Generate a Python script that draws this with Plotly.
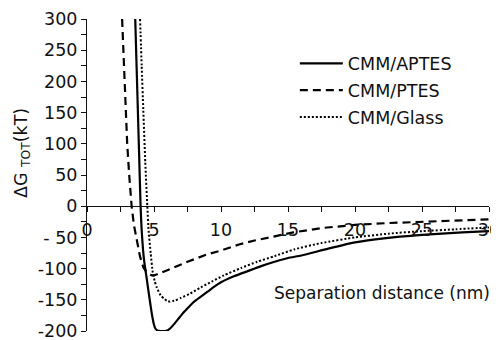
import plotly.graph_objects as go

# ---- data ----
aptes_x = [3.6, 3.7, 3.8, 3.9, 4.0, 4.1, 4.25, 4.45, 4.6, 4.75, 4.9, 5.0, 5.1, 5.25, 5.5, 5.8, 6.0,
           6.2, 6.5, 6.8, 7.1, 7.4, 7.7, 8.0, 8.5, 9.0, 9.5, 10.0, 11.0, 12.0, 13.0, 14.0, 15.0,
           16.0, 18.0, 20.0, 22.0, 25.0, 28.0, 30.0]
aptes_y = [300, 225, 150, 75, 0, -45, -85, -115, -138, -160, -180, -190, -196, -199, -200, -200, -199,
           -196, -189, -181, -173, -166, -159, -153, -145, -137, -129, -122, -112, -104, -96, -89, -83,
           -79, -68, -58, -52, -46, -42, -40]

ptes_x = [2.62, 2.75, 2.9, 3.0, 3.15, 3.33, 3.5, 3.7, 3.95, 4.2, 4.5, 4.85, 5.0, 5.5, 6.0, 6.5, 7.5,
          9.0, 10.0, 11.4, 12.5, 14.0, 15.4, 17.5, 20.0, 22.5, 25.0, 27.5, 30.0]
ptes_y = [300, 230, 150, 100, 50, 0, -30, -55, -80, -98, -107, -111, -111, -107, -103, -98, -89,
          -77, -71, -61, -55, -48, -42, -35, -30, -27, -25, -23, -21]

glass_x = [3.96, 4.08, 4.2, 4.35, 4.5, 4.6, 4.75, 4.9, 5.05, 5.2, 5.5, 5.8, 6.0, 6.2, 6.4, 6.6, 7.0,
           7.7, 8.5, 9.3, 10.2, 11.5, 12.7, 14.0, 15.5, 17.5, 20.0, 22.5, 25.0, 27.5, 30.0]
glass_y = [300, 225, 155, 70, 0, -40, -75, -105, -120, -130, -143, -149, -152, -153, -152, -151, -147,
           -140, -130, -121, -111, -99, -89, -80, -69, -59, -50, -44, -40, -37, -34]

names = ["CMM/APTES", "CMM/PTES", "CMM/Glass"]

x_ticks = [0, 5, 10, 15, 20, 25, 30]
y_ticks = [300, 250, 200, 150, 100, 50, 0, -50, -100, -150, -200]
y_ticktext = ["300", "250", "200", "150", "100", "50", "0", "- 50", "-100", "-150", "-200"]

FONT = "DejaVu Sans, Arial, sans-serif"
INK = "#111111"
FS = 17.5

fig = go.Figure()
fig.add_trace(go.Scatter(x=aptes_x, y=aptes_y, mode="lines", name=names[0], legendgroup="a",
                         line=dict(color="black", width=2.2, shape="spline", smoothing=0.6)))
fig.add_trace(go.Scatter(x=ptes_x, y=ptes_y, mode="lines", name=names[1], legendgroup="b",
                         line=dict(color="black", width=2.2, dash="8px,5px")))
fig.add_trace(go.Scatter(x=glass_x, y=glass_y, mode="lines", name=names[2], legendgroup="c",
                         line=dict(color="black", width=2, dash="2px,2px", shape="spline", smoothing=0.5)))

# the page body adds an 8px offset, so the figure is sized to fit the 499x340 window
fig.update_layout(
    width=491, height=332,
    margin=dict(l=79, r=10, t=11, b=9, autoexpand=False),
    paper_bgcolor="white", plot_bgcolor="white",
    font=dict(family=FONT, size=FS, color=INK),
    showlegend=True,
    legend=dict(x=0.517, y=0.915, xanchor="left", yanchor="top",
                bgcolor="rgba(0,0,0,0)", font=dict(size=FS, color=INK),
                tracegroupgap=1, itemwidth=43),
    xaxis=dict(range=[0, 30], anchor="free", position=0.4, automargin=False,
               showline=True, linecolor=INK, linewidth=1,
               ticks="outside", ticklen=5, tickcolor=INK, tickwidth=1,
               tickvals=x_ticks, ticktext=[str(v) for v in x_ticks],
               minor=dict(dtick=2.5, ticks="outside", ticklen=5, tickcolor=INK),
               ticklabelstandoff=3, ticklabeloverflow="allow",
               showgrid=False, zeroline=False, tickfont=dict(size=FS, color=INK)),
    yaxis=dict(range=[-200, 300], automargin=False,
               showline=True, linecolor=INK, linewidth=1,
               ticks="outside", ticklen=5, tickcolor=INK, tickwidth=1,
               tickvals=y_ticks, ticktext=y_ticktext, ticklabeloverflow="allow",
               minor=dict(dtick=25, ticks="outside", ticklen=5, tickcolor=INK),
               showgrid=False, zeroline=False, tickfont=dict(size=FS, color=INK)),
    annotations=[
        dict(text="ΔG <sub>TOT</sub>(kT)", xref="paper", yref="paper", x=-0.162, y=0.57,
             xanchor="center", yanchor="middle",
             textangle=-90, showarrow=False, font=dict(size=FS, color=INK)),
        dict(text="Separation distance (nm)", xref="paper", yref="paper", x=1.007, y=0.122,
             xanchor="right", yanchor="middle", showarrow=False, font=dict(size=17, color=INK)),
    ],
)

fig.write_html("out.html")
